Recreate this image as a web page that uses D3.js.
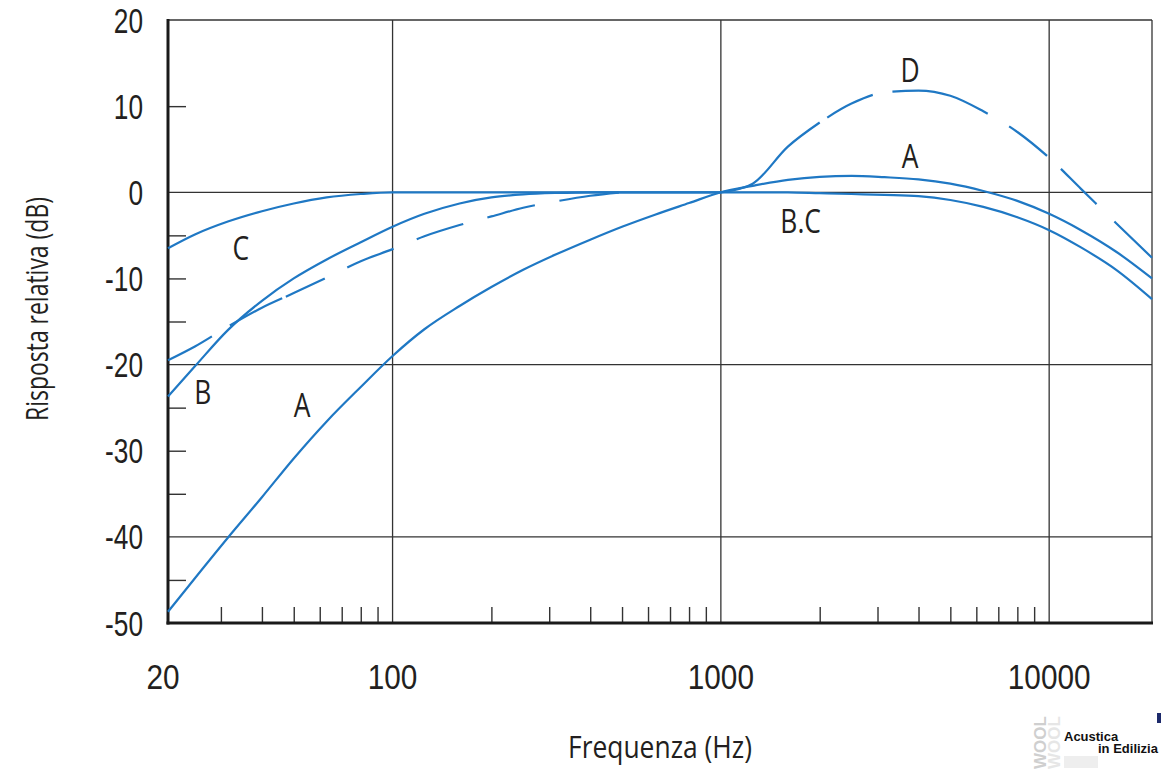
<!DOCTYPE html>
<html>
<head>
<meta charset="utf-8">
<script src="https://cdn.jsdelivr.net/npm/d3@7"></script>
<style>
  body { margin: 0; background: #fff; }
  svg text { font-family: 'Open Sans', 'Noto Sans', 'Liberation Sans', sans-serif; }
  svg text.tick-label { font-family: 'Liberation Sans', Arial, sans-serif; }
</style>
</head>
<body>
<div id="chart"></div>
<script>
// frequencies (Hz)
const freqs = [20.7, 25, 31.5, 40, 50, 63, 80, 100, 125, 160, 200, 250, 315, 400, 500, 630, 800, 1000,
  1250, 1600, 2000, 2500, 3150, 4000, 5000, 6300, 8000, 10000, 12500, 16000, 20570];

// curve A (solid)
const curveA = [-48.7, -44.8, -40.1, -35.4, -30.9, -26.6, -22.6, -19.0, -15.9, -13.2, -11.0, -9.0, -7.2, -5.5, -4.0, -2.6, -1.25, 0,
  0.75, 1.45, 1.8, 1.9, 1.75, 1.5, 1.0, 0.15, -1.0, -2.5, -4.4, -6.9, -10.0];

// curve C (solid), shared with B above 1 kHz ("B.C")
const curveC = [-6.5, -4.9, -3.4, -2.2, -1.3, -0.6, -0.2, 0, 0, 0, 0, 0, 0, 0, 0, 0, 0, 0,
  0, 0, -0.1, -0.2, -0.3, -0.45, -0.9, -1.7, -2.9, -4.4, -6.4, -9.0, -12.4];

// curve B (solid) up to 1 kHz
const freqsB = [20.7, 25, 31.5, 40, 50, 63, 80, 100, 125, 160, 200, 250, 315, 400, 500, 630, 800, 1000];
const curveB = [-23.7, -20.2, -16.0, -12.6, -10.0, -7.8, -5.8, -4.0, -2.5, -1.3, -0.6, -0.25, -0.08, 0, 0, 0, 0, 0];

// curve D (dashed, solid between 1 and 2 kHz)
const freqsD = [20.7, 25, 31.5, 40, 50, 63, 80, 100, 125, 160, 200, 250, 315, 400, 500, 630, 800, 1000,
  1150, 1250, 1600, 2000, 2500, 3150, 4000, 5000, 6300, 8000, 10000, 12500, 16000, 20570];
const curveD = [-19.5, -17.9, -15.6, -13.4, -11.7, -9.9, -8.0, -6.6, -5.1, -3.8, -2.8, -1.8, -1.05, -0.4, 0, 0, 0, 0,
  0.45, 1.0, 5.3, 8.1, 10.3, 11.6, 11.8, 11.2, 9.4, 7.0, 4.0, 0.4, -3.6, -7.6];

// axes
const yLabels = [20, 10, 0, -10, -20, -30, -40, -50];
const yGrid = [0, -20, -40];
const yMinor = [10, -5, -10, -15, -25, -30, -35, -45];
const xLabels = [20, 100, 1000, 10000];
const xGrid = [100, 1000, 10000];
const xMinor = [30, 40, 50, 60, 70, 80, 90, 200, 300, 400, 500, 600, 700, 800, 900,
  2000, 3000, 4000, 5000, 6000, 7000, 8000, 9000];

// curve names placed on the chart [freq, dB, text]
const curveNames = [[34.5, -6.5, 'C'], [26.4, -23.2, 'B'], [53, -24.7, 'A'], [1750, -3.3, 'B.C'],
  [3770, 4.2, 'A'], [3770, 14.2, 'D']];

const W = 1161, H = 769;
const x0 = 168, x1 = 1152, y0 = 20, y1 = 623;
const blue = '#1f78c4', ink = '#231f20';

const x = d3.scaleLog().domain([20.7, 20570]).range([x0, x1]);
const y = d3.scaleLinear().domain([-50, 20]).range([y1, y0]);

const svg = d3.select('#chart').append('svg').attr('width', W).attr('height', H);

// condensed look: draw at origin and squeeze horizontally
function label(g, px, py, str, size, sx, anchor) {
  return g.append('text')
      .attr('transform', `translate(${px},${py}) scale(${sx},1)`)
      .attr('text-anchor', anchor).attr('font-size', size).attr('fill', ink)
      .text(str);
}

// grid + frame
const grid = svg.append('g').attr('stroke', '#333').attr('stroke-width', 1.3);
grid.selectAll('.hg').data(yGrid.concat([20])).enter().append('line')
    .attr('x1', x0).attr('x2', x1).attr('y1', d => y(d)).attr('y2', d => y(d));
grid.selectAll('.vg').data(xGrid).enter().append('line')
    .attr('x1', d => x(d)).attr('x2', d => x(d)).attr('y1', y0).attr('y2', y1);
grid.append('line').attr('x1', x1).attr('x2', x1).attr('y1', y0).attr('y2', y1);

// minor ticks, pointing inside
svg.append('g').attr('transform', `translate(${x0},0)`)
    .call(d3.axisRight(y).tickValues(yMinor).tickSize(18).tickSizeOuter(0).tickFormat(''))
    .call(g => g.select('.domain').remove())
    .selectAll('line').attr('stroke', '#333').attr('stroke-width', 1.4);
svg.append('g').attr('transform', `translate(0,${y1})`)
    .call(d3.axisTop(x).tickValues(xMinor).tickSize(16).tickSizeOuter(0).tickFormat(''))
    .call(g => g.select('.domain').remove())
    .selectAll('line').attr('stroke', '#333').attr('stroke-width', 1.4);

// thick axis lines
svg.append('line').attr('x1', x0).attr('x2', x0).attr('y1', y0 - 1).attr('y2', y1 + 1.5)
    .attr('stroke', '#1a1a1a').attr('stroke-width', 3);
svg.append('line').attr('x1', x0 - 1.5).attr('x2', x1 + 1).attr('y1', y1).attr('y2', y1)
    .attr('stroke', '#1a1a1a').attr('stroke-width', 3);

// tick labels
const yl = svg.append('g');
yLabels.forEach(d => label(yl, 143, y(d) + 12.5, String(d), 35, 0.75, 'end').attr('class', 'tick-label'));
const xl = svg.append('g');
xLabels.forEach(d => label(xl, x(d), 689, String(d), 35, 0.85, 'middle').attr('class', 'tick-label'));

// axis titles
svg.append('text').attr('x', 660).attr('y', 758).attr('text-anchor', 'middle')
    .attr('font-size', 31).attr('fill', ink)
    .attr('textLength', 184).attr('lengthAdjust', 'spacingAndGlyphs')
    .text('Frequenza (Hz)');
svg.append('text').attr('transform', 'translate(48,309) rotate(-90)').attr('text-anchor', 'middle')
    .attr('font-size', 31).attr('fill', ink)
    .attr('textLength', 224).attr('lengthAdjust', 'spacingAndGlyphs')
    .text('Risposta relativa (dB)');

// curves
const line = d3.line().x(d => x(d[0])).y(d => y(d[1])).curve(d3.curveMonotoneX);
const curves = svg.append('g').attr('fill', 'none').attr('stroke', blue).attr('stroke-width', 2.2);

curves.append('path').attr('d', line(d3.zip(freqs, curveC)));
curves.append('path').attr('d', line(d3.zip(freqsB, curveB)));
curves.append('path').attr('d', line(d3.zip(freqs, curveA)));

const dPts = d3.zip(freqsD, curveD);
curves.append('path').attr('d', line(dPts.filter(d => d[0] <= 500)))
    .attr('stroke-dasharray', '50,21,59,4,43,25,50,25,49,25,49,25,60');
curves.append('path').attr('d', line(dPts.filter(d => d[0] >= 1000 && d[0] <= 2000)));
curves.append('path').attr('d', line(dPts.filter(d => d[0] >= 2000)))
    .attr('stroke-dasharray', '0,9,51,20,100,25,48,19,50,25,60');

// curve names
const cn = svg.append('g');
curveNames.forEach(d => label(cn, x(d[0]), y(d[1]) + 12, d[2], 33, 0.8, 'middle'));

// publisher mark, bottom right
const logo = svg.append('g');
logo.append('text').attr('transform', 'translate(1046,769) rotate(-90)')
    .attr('font-size', 17).attr('font-weight', 'bold').attr('fill', '#cfcfcf')
    .style('font-family', 'Arial, sans-serif').text('WOOL');
logo.append('text').attr('transform', 'translate(1060,769) rotate(-90)')
    .attr('font-size', 17).attr('font-weight', 'bold').attr('fill', '#e6e6e6')
    .style('font-family', 'Arial, sans-serif').text('WOOL');
logo.append('rect').attr('x', 1064).attr('y', 756).attr('width', 34).attr('height', 12).attr('fill', '#eeeeee');
logo.append('text').attr('x', 1064).attr('y', 741).attr('font-size', 13).attr('font-weight', 'bold')
    .attr('fill', '#111').style('font-family', 'Arial, sans-serif').text('Acustica');
logo.append('text').attr('x', 1098).attr('y', 753).attr('font-size', 13).attr('font-weight', 'bold')
    .attr('fill', '#111').style('font-family', 'Arial, sans-serif').text('in Edilizia');
logo.append('rect').attr('x', 1157).attr('y', 713).attr('width', 4).attr('height', 10).attr('fill', '#1d2a6b');
</script>
</body>
</html>
